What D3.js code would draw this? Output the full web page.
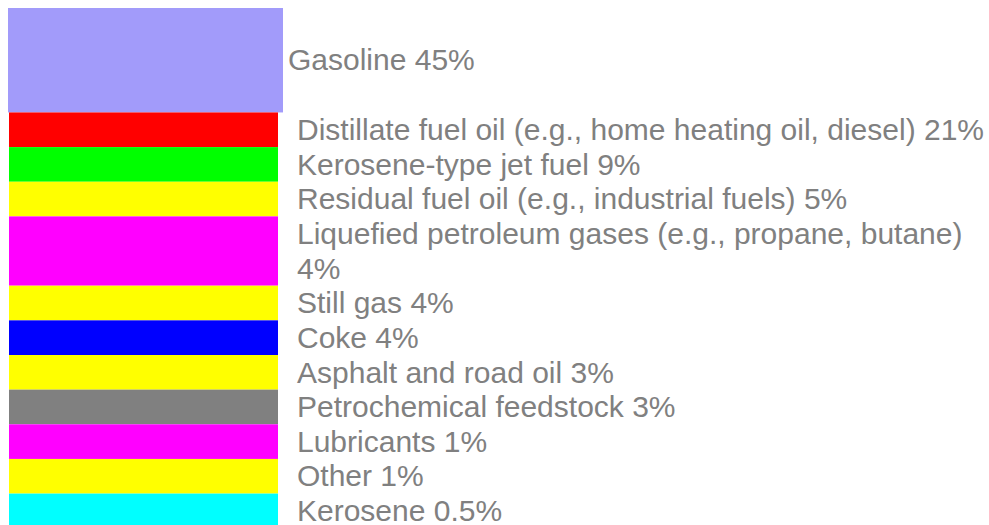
<!DOCTYPE html>
<html>
<head>
<meta charset="utf-8">
<script src="https://cdn.jsdelivr.net/npm/d3@7"></script>
<style>
  body { margin: 0; background: #fff; }
  svg { display: block; }
</style>
</head>
<body>
<svg></svg>
<script>
const width = 989;
const height = 525;

const products = ["Gasoline", "Distillate fuel oil (e.g., home heating oil, diesel)", "Kerosene-type jet fuel",
  "Residual fuel oil (e.g., industrial fuels)", "Liquefied petroleum gases (e.g., propane, butane)",
  "Still gas", "Coke", "Asphalt and road oil", "Petrochemical feedstock", "Lubricants", "Other", "Kerosene"];
const shares = [45, 21, 9, 5, 4, 4, 4, 3, 3, 1, 1, 0.5];
const colors = ["#a29bfa", "#ff0000", "#00ff00", "#ffff00", "#ff00ff", "#ffff00",
  "#0000ff", "#ffff00", "#808080", "#ff00ff", "#ffff00", "#00ffff"];

const lineH = 34.65;
const fontSize = 30;
const textX = 297;
const maxTextW = width - textX - 4;

let svg = d3.select("svg")
  .attr("width", width)
  .attr("height", height);

// measure text to find how many lines each label needs
let measure = svg.append("text")
  .attr("font-family", "Arial, 'Liberation Sans', sans-serif")
  .attr("font-size", fontSize);

function wrap(str) {
  let words = str.split(" ");
  let lines = [];
  let cur = "";
  words.forEach(w => {
    let test = cur ? cur + " " + w : w;
    measure.text(test);
    if (measure.node().getComputedTextLength() > maxTextW && cur) {
      lines.push(cur);
      cur = w;
    } else {
      cur = test;
    }
  });
  lines.push(cur);
  return lines;
}

let rows = products.map((p, i) => {
  let lines = wrap(`${p} ${shares[i]}%`);
  // the leading product gets a taller block
  let units = i === 0 ? 3 : lines.length;
  return {name: p, share: shares[i], color: colors[i], lines: lines, units: units};
});
measure.remove();

let acc = 0;
rows.forEach(r => { r.start = acc; acc += r.units; });

let yScale = d3.scaleLinear().domain([0, acc]).range([8.5, 8.5 + acc * lineH]);

let g = svg.selectAll("g.row")
  .data(rows)
  .enter()
  .append("g")
  .attr("class", "row");

g.append("rect")
  .attr("x", (d, i) => i === 0 ? 8 : 9)
  .attr("width", (d, i) => i === 0 ? 275 : 269)
  .attr("y", d => d.start === 0 ? 8 : yScale(d.start))
  .attr("height", d => yScale(d.start + d.units) - (d.start === 0 ? 8 : yScale(d.start)))
  .attr("fill", d => d.color);

g.each(function(d, i) {
  let t = d3.select(this).append("text")
    .attr("font-family", "Arial, 'Liberation Sans', sans-serif")
    .attr("font-size", fontSize)
    .attr("fill", "#808080");
  if (i === 0) {
    t.attr("x", 288)
     .attr("y", (yScale(d.start) + yScale(d.start + d.units)) / 2 + 10)
     .text(d.lines.join(" "));
  } else {
    t.selectAll("tspan")
      .data(d.lines)
      .enter()
      .append("tspan")
      .attr("x", textX)
      .attr("y", (l, k) => yScale(d.start + k) + 27.5)
      .text(l => l);
  }
});
</script>
</body>
</html>
